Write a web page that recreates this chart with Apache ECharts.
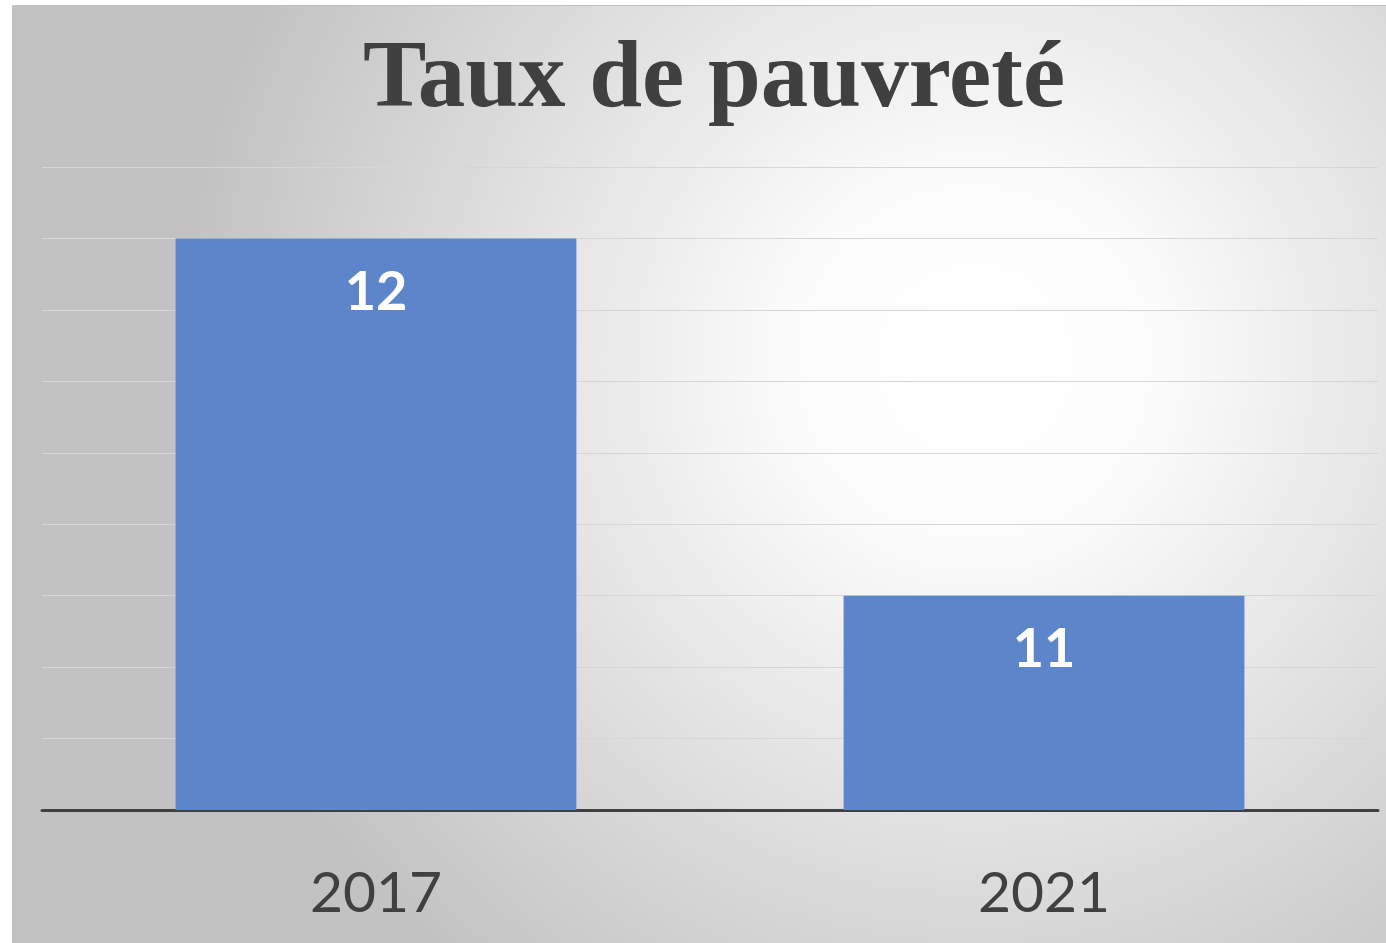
<!DOCTYPE html>
<html>
<head>
<meta charset="utf-8">
<script src="https://cdn.jsdelivr.net/npm/echarts@6/dist/echarts.min.js"></script>
<style>
html,body{margin:0;padding:0;background:#fff;}
#c{width:1386px;height:943px;}
</style>
</head>
<body>
<div id="c"></div>
<script>
const titleText = 'Taux de pauvreté';
const categories = ['2017', '2021'];
const values = [12, 11];
const yMin = 10.4, yMax = 12.2, yStep = 0.2;

const chart = echarts.init(document.getElementById('c'));
chart.setOption({
  animation: false,
  graphic: [{
    type: 'rect',
    left: 12, top: 5, z: -10,
    shape: { width: 1374, height: 938 },
    style: {
      fill: {
        type: 'radial', x: 0.7, y: 0.38, r: 0.85,
        colorStops: [
          { offset: 0, color: '#ffffff' },
          { offset: 0.22, color: '#fcfcfc' },
          { offset: 1, color: '#c2c2c2' }
        ]
      },
      stroke: '#c0c0c0', lineWidth: 1
    }
  }],
  title: {
    text: titleText,
    left: 358,
    top: 29,
    textStyle: {
      fontFamily: 'Liberation Serif',
      fontWeight: 'bold',
      fontSize: 95,
      color: '#404040'
    }
  },
  grid: { left: 42, right: 8, top: 167, bottom: 133 },
  xAxis: {
    type: 'category',
    data: categories,
    axisLine: { lineStyle: { color: '#404040', width: 3 } },
    axisTick: { show: false },
    axisLabel: {
      margin: 55,
      fontFamily: 'Lato',
      fontSize: 57,
      color: '#404040'
    }
  },
  yAxis: {
    type: 'value',
    min: yMin, max: yMax, interval: yStep,
    axisLabel: { show: false },
    axisLine: { show: false },
    axisTick: { show: false },
    splitLine: { lineStyle: { color: '#d6d6d6', width: 1 } }
  },
  series: [{
    type: 'bar',
    data: values,
    barWidth: '60%',
    itemStyle: { color: '#5d86ca' },
    label: {
      show: true,
      position: 'insideTop',
      distance: 27,
      fontFamily: 'Lato',
      fontWeight: 'bold',
      fontSize: 54,
      color: '#ffffff'
    }
  }]
});
</script>
</body>
</html>
